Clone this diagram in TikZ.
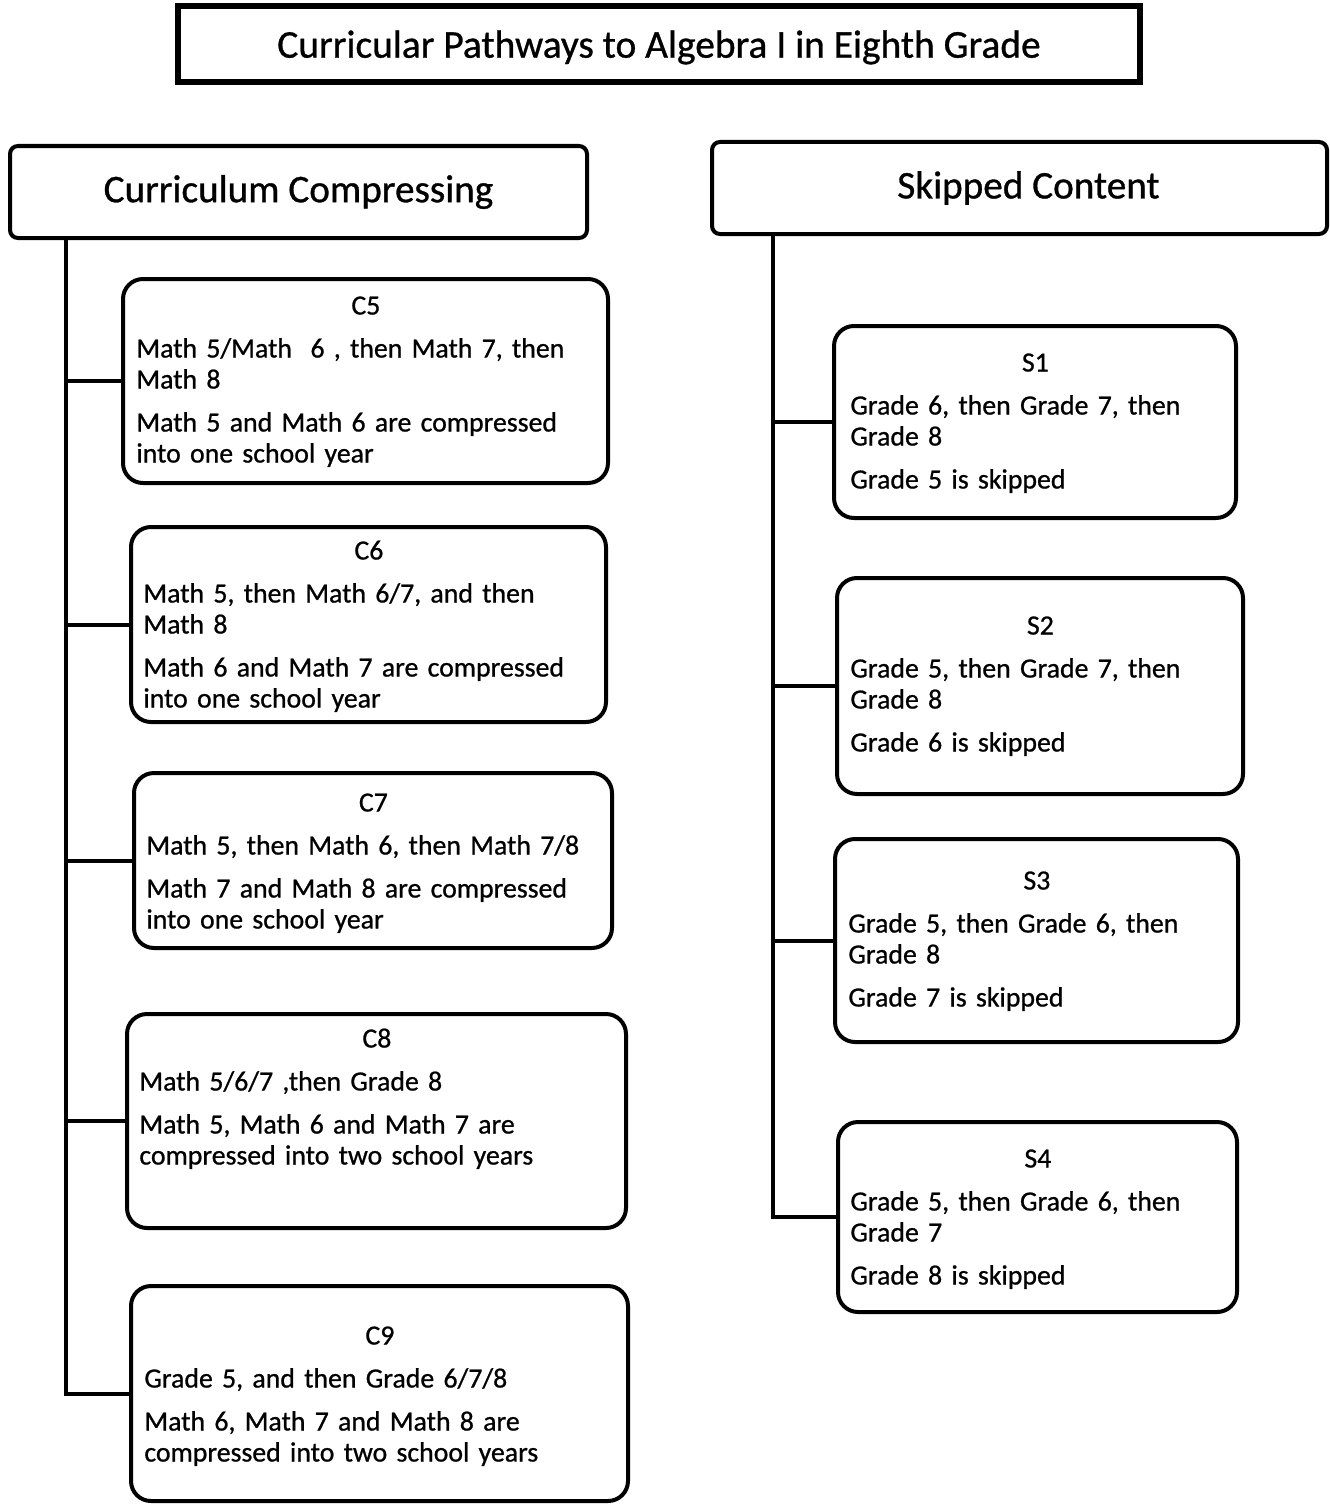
\documentclass[tikz,border=0pt]{standalone}
\usepackage{fontspec}
\setmainfont{Carlito}[FakeBold=0.8]
\usetikzlibrary{positioning}

\begin{document}
\begin{tikzpicture}[x=0.5pt,y=-0.5pt,
  titlebox/.style={draw,line width=2.8pt,inner sep=0pt,text depth=0pt,font=\fontsize{19.7pt}{23pt}\selectfont},
  heading/.style={draw,line width=2pt,rounded corners=4pt,inner sep=0pt,font=\fontsize{19.6pt}{23pt}\selectfont},
  pathbox/.style={draw,line width=2pt,rounded corners=10pt,inner sep=0pt},
  pathtext/.style={anchor=base west,inner sep=0pt,align=left,font=\fontsize{13.9pt}{15.5pt}\selectfont},
  link/.style={line width=2pt}]
\useasboundingbox (0,0) rectangle (1329,1504);

\node[titlebox,minimum width=481pt,minimum height=38pt] (title) at (659,44) {Curricular Pathways to Algebra I in Eighth Grade};

% the two groups
\node[heading,minimum width=288.5pt,minimum height=46pt] (comp) at (298.5,192) {Curriculum Compressing};
\node[heading,minimum width=307.5pt,minimum height=46pt] (skip) at (1019.5,188) {\hspace*{9pt}Skipped Content};

% compressing pathways
\node[pathbox,minimum width=242.5pt,minimum height=102pt] (c5) at (365.5,381) {};
\node[pathtext,text width=229.5pt] (c5t) at (136,314.5) {\makebox[\linewidth]{C5}\\[6pt]
  Math 5/Math\ \ 6 , then Math 7, then\\ Math 8\\[6pt]
  Math 5 and Math 6 are compressed\\ into one school year};

\node[pathbox,minimum width=237.5pt,minimum height=97.5pt] (c6) at (368.5,624.5) {};
\node[pathtext,text width=225.5pt] (c6t) at (143,559.5) {\makebox[\linewidth]{C6}\\[6pt]
  Math 5, then Math 6/7, and then\\ Math 8\\[6pt]
  Math 6 and Math 7 are compressed\\ into one school year};

\node[pathbox,minimum width=239pt,minimum height=87.5pt] (c7) at (373,860.5) {};
\node[pathtext,text width=227pt] (c7t) at (146,811.5) {\makebox[\linewidth]{C7}\\[6pt]
  Math 5, then Math 6, then Math 7/8\\[6pt]
  Math 7 and Math 8 are compressed\\ into one school year};

\node[pathbox,minimum width=249.5pt,minimum height=107pt] (c8) at (376.5,1121) {};
\node[pathtext,text width=237.5pt] (c8t) at (139,1047.5) {\makebox[\linewidth]{C8}\\[6pt]
  Math 5/6/7 ,then Grade 8\\[6pt]
  Math 5, Math 6 and Math 7 are\\ compressed into two school years};

\node[pathbox,minimum width=248.5pt,minimum height=107.5pt] (c9) at (379.5,1393.5) {};
\node[pathtext,text width=235.5pt] (c9t) at (144,1344.5) {\makebox[\linewidth]{C9}\\[6pt]
  Grade 5, and then Grade 6/7/8\\[6pt]
  Math 6, Math 7 and Math 8 are\\ compressed into two school years};

% skipped pathways
\node[pathbox,minimum width=201pt,minimum height=96pt] (s1) at (1035,422) {};
\node[pathtext,text width=185pt] (s1t) at (850,371.5) {\makebox[\linewidth]{S1}\\[6pt]
  Grade 6, then Grade 7, then\\ Grade 8\\[6pt] Grade 5 is skipped};

\node[pathbox,minimum width=203pt,minimum height=108pt] (s2) at (1040,686) {};
\node[pathtext,text width=190pt] (s2t) at (850,634.5) {\makebox[\linewidth]{S2}\\[6pt]
  Grade 5, then Grade 7, then\\ Grade 8\\[6pt] Grade 6 is skipped};

\node[pathbox,minimum width=201.5pt,minimum height=101.5pt] (s3) at (1036.5,940.5) {};
\node[pathtext,text width=188.5pt] (s3t) at (848,889.5) {\makebox[\linewidth]{S3}\\[6pt]
  Grade 5, then Grade 6, then\\ Grade 8\\[6pt] Grade 7 is skipped};

\node[pathbox,minimum width=199.5pt,minimum height=95pt] (s4) at (1037.5,1217) {};
\node[pathtext,text width=187.5pt] (s4t) at (850,1167.5) {\makebox[\linewidth]{S4}\\[6pt]
  Grade 5, then Grade 6, then\\ Grade 7\\[6pt] Grade 8 is skipped};

% trunks and branches
\coordinate (ltop) at ([xshift=29pt]comp.south west);
\coordinate (rtop) at ([xshift=31.5pt]skip.south west);
\draw[link] (ltop) |- (c9.west);
\foreach \b in {c5,c6,c7,c8} \draw[link] (ltop |- \b.west) -- (\b.west);
\draw[link] (rtop) |- (s4.west);
\foreach \b in {s1,s2,s3} \draw[link] (rtop |- \b.west) -- (\b.west);
\end{tikzpicture}
\end{document}
